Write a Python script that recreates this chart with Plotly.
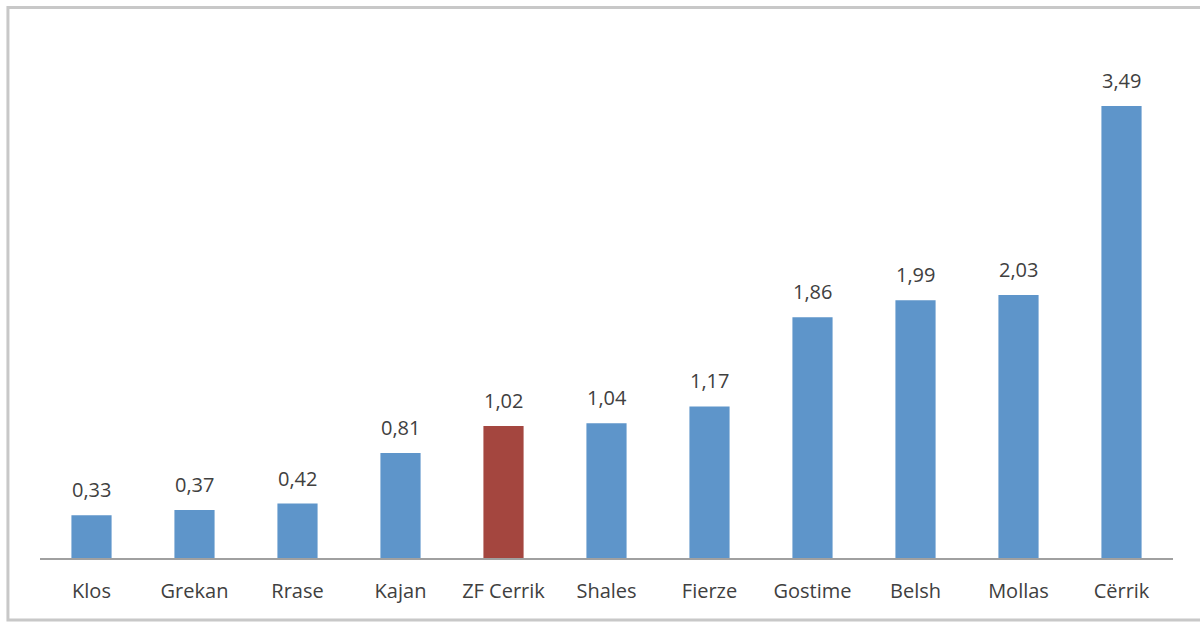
import plotly.graph_objects as go

categories = ["Klos", "Grekan", "Rrase", "Kajan", "ZF Cerrik", "Shales", "Fierze",
              "Gostime", "Belsh", "Mollas", "Cërrik"]
values = [0.33, 0.37, 0.42, 0.81, 1.02, 1.04, 1.17, 1.86, 1.99, 2.03, 3.49]
highlight = "ZF Cerrik"

BLUE = "#5E95CA"
RED = "#A4463F"
TEXT = "#404040"
colors = [RED if c == highlight else BLUE for c in categories]
labels = [f"{v:.2f}".replace(".", ",") for v in values]

fig = go.Figure(go.Bar(
    x=categories, y=values, marker=dict(color=colors, line=dict(width=0)),
    cliponaxis=False,
))

for c, v, t in zip(categories, values, labels):
    fig.add_annotation(x=c, y=v, text=t, showarrow=False, yanchor="bottom",
                       yshift=10, font=dict(family="Open Sans", size=20, color=TEXT))

fig.update_layout(
    width=1200, height=622,
    margin=dict(l=40, r=27, t=40, b=64),
    paper_bgcolor="white", plot_bgcolor="white",
    bargap=0.61, showlegend=False,
    font=dict(family="Open Sans", size=20, color=TEXT),
    xaxis=dict(showline=True, linecolor="#a0a0a0", linewidth=2, ticks="",
               ticklabelstandoff=14, showgrid=False,
               tickfont=dict(family="Open Sans", size=20, color=TEXT)),
    yaxis=dict(range=[0, 4.0], visible=False, showgrid=False),
    shapes=[dict(type="rect", xref="paper", yref="paper",
                 x0=-0.0283, x1=1.03, y0=-0.1197, y1=1.0627,
                 line=dict(color="#c8c8c8", width=3), fillcolor="rgba(0,0,0,0)",
                 layer="below")],
)

fig.write_html("out.html", config={"displayModeBar": False},
               post_script="document.body.style.margin='0';")
